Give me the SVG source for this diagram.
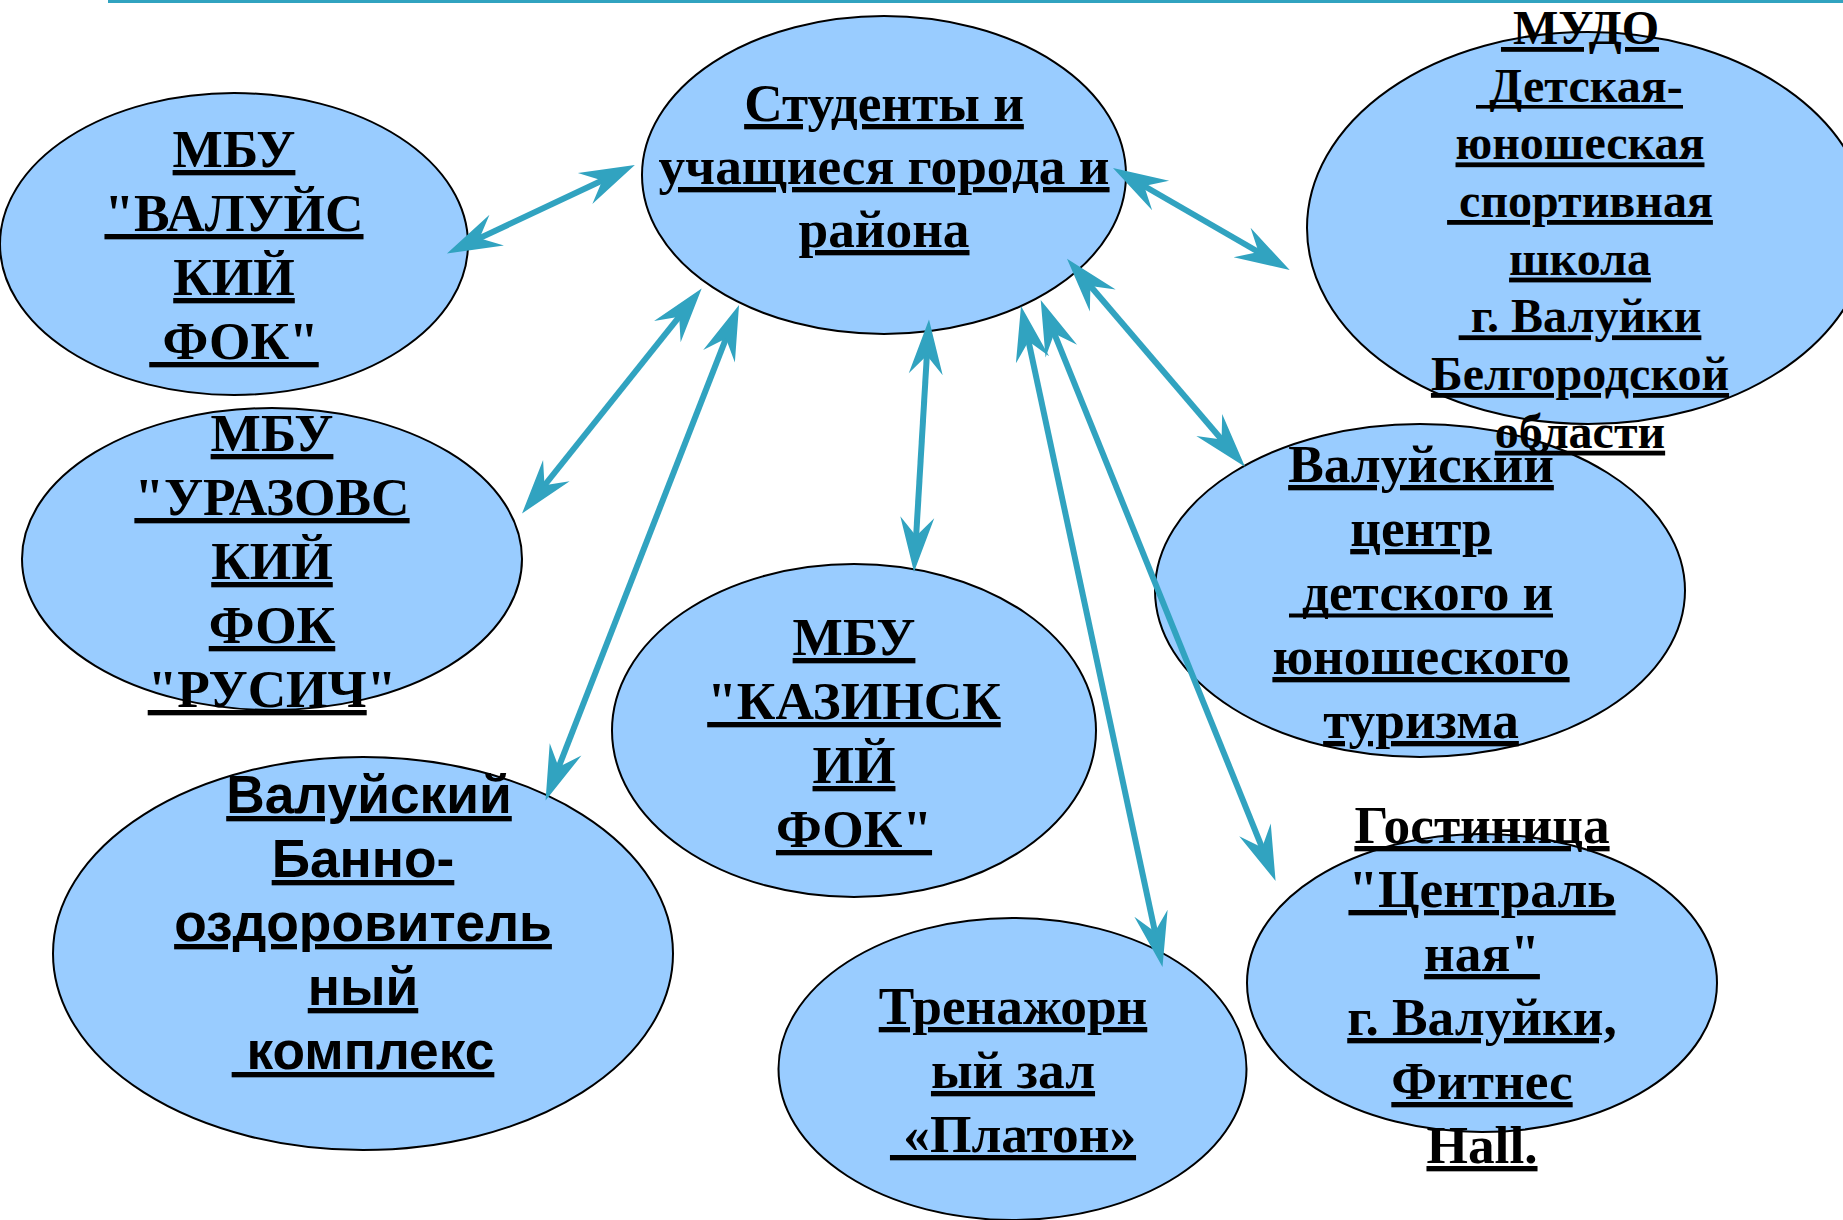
<svg xmlns="http://www.w3.org/2000/svg" width="1843" height="1220" viewBox="0 0 1843 1220">
<style>
.nd{fill:#99CCFF;stroke:#000;stroke-width:2}
.t{font-family:"Liberation Serif","Times New Roman",serif;font-weight:bold;font-size:53.3px;text-anchor:middle;fill:#000}
.s{font-family:"Liberation Sans",Arial,sans-serif;font-weight:bold;font-size:53.3px;text-anchor:middle;fill:#000}
.t,.s,.u{text-decoration-line:underline;text-decoration-skip-ink:none;text-decoration-thickness:4px}
.m{font-size:48px}
.t.nu{text-decoration-line:none}
.ul{fill:#000}
.c{stroke:#31A3C0;stroke-width:6;fill:none;marker-start:url(#ah);marker-end:url(#ah)}
</style>
<defs>
<marker id="ah" markerUnits="userSpaceOnUse" markerWidth="80" markerHeight="60" viewBox="-30 -30 80 60" refX="0" refY="0" orient="auto-start-reverse" overflow="visible">
<path d="M32,0 L-23,-17 L-4,0 L-23,17 Z" fill="#31A3C0"/>
</marker>
</defs>
<rect width="1843" height="1220" fill="#fff"/>
<line x1="108" y1="1.5" x2="1843" y2="1.5" stroke="#31A3C0" stroke-width="3"/>

<g id="n-turizm">
<ellipse class="nd" cx="1420" cy="590.5" rx="265" ry="166.5"/>
<text class="t" x="1421" y="482">Валуйский</text>
<text class="t" x="1421" y="546">центр</text>
<text class="t nu" x="1421" y="610" xml:space="preserve"> детского и</text>
<rect class="ul" x="1289" y="613.5" width="264" height="4"/>
<text class="t" x="1421" y="674">юношеского</text>
<text class="t" x="1421" y="738">туризма</text>
</g>

<g id="n-dyussh">
<ellipse class="nd" cx="1588" cy="228" rx="281" ry="196"/>
<text class="t m" x="1580" y="44" xml:space="preserve"> МУДО</text>
<text class="t m nu" x="1580" y="101.7" xml:space="preserve"> Детская-</text>
<rect class="ul" x="1476" y="105" width="207" height="3.6"/>
<text class="t m" x="1580" y="159.4">юношеская</text>
<text class="t m" x="1580" y="217" xml:space="preserve"> спортивная</text>
<text class="t m" x="1580" y="274.6">школа</text>
<text class="t m" x="1580" y="332.3" xml:space="preserve"> г. Валуйки</text>
<text class="t m" x="1580" y="390">Белгородской</text>
<text class="t m" x="1580" y="447.7">области</text>
</g>

<g id="n-students">
<ellipse class="nd" cx="884" cy="175" rx="242" ry="159"/>
<text class="t" x="884" y="121">Студенты и</text>
<text class="t" x="884" y="184">учащиеся города и</text>
<text class="t" x="884" y="247">района</text>
</g>

<g id="n-valuysky-fok">
<ellipse class="nd" cx="234" cy="244" rx="234" ry="151"/>
<text class="t" x="234" y="167">МБУ</text>
<text class="t" x="234" y="231">"ВАЛУЙС</text>
<text class="t" x="234" y="295">КИЙ</text>
<text class="t" x="234" y="359" xml:space="preserve"> ФОК"</text>
</g>

<g id="n-urazovo">
<ellipse class="nd" cx="272" cy="559" rx="250" ry="151"/>
<text class="t" x="272" y="451">МБУ</text>
<text class="t" x="272" y="515">"УРАЗОВС</text>
<text class="t" x="272" y="579">КИЙ</text>
<text class="t" x="272" y="643">ФОК</text>
<text class="t nu" x="272" y="707"><tspan class="u">"РУСИЧ</tspan>"</text>
</g>

<g id="n-banya">
<ellipse class="nd" cx="363" cy="953.5" rx="310" ry="196.5"/>
<text class="s" x="369" y="813">Валуйский</text>
<text class="s" x="363" y="877">Банно-</text>
<text class="s" x="363" y="941">оздоровитель</text>
<text class="s" x="363" y="1005">ный</text>
<text class="s" x="363" y="1069" xml:space="preserve"> комплекс</text>
</g>

<g id="n-kazinka">
<ellipse class="nd" cx="854" cy="730.5" rx="242" ry="166.5"/>
<text class="t" x="854" y="655">МБУ</text>
<text class="t" x="854" y="719">"КАЗИНСК</text>
<text class="t" x="854" y="783">ИЙ</text>
<text class="t" x="854" y="847">ФОК"</text>
</g>

<g id="n-platon">
<ellipse class="nd" cx="1012.5" cy="1069" rx="234" ry="151"/>
<text class="t" x="1013" y="1024">Тренажорн</text>
<text class="t" x="1013" y="1088">ый зал</text>
<text class="t" x="1013" y="1152" xml:space="preserve"> «Платон»</text>
</g>

<g id="n-hotel">
<ellipse class="nd" cx="1482" cy="983" rx="235" ry="149"/>
<text class="t" x="1482" y="843">Гостиница</text>
<text class="t" x="1482" y="907">"Централь</text>
<text class="t" x="1482" y="971">ная"</text>
<text class="t" x="1482" y="1035">г. Валуйки,</text>
<text class="t" x="1482" y="1099">Фитнес</text>
<text class="t" x="1482" y="1163">Hall.</text>
</g>

<g id="connectors">
<line class="c" x1="475.9" y1="239.9" x2="605.9" y2="178.7"/>
<line class="c" x1="542" y1="488.5" x2="681.7" y2="313.6"/>
<line class="c" x1="557.2" y1="770.8" x2="727.4" y2="334.8"/>
<line class="c" x1="927.1" y1="351.4" x2="915.9" y2="540.1"/>
<line class="c" x1="1027.7" y1="337.3" x2="1155.8" y2="935.7"/>
<line class="c" x1="1052.7" y1="329.7" x2="1263.6" y2="851.3"/>
<line class="c" x1="1087.8" y1="283" x2="1224.2" y2="442.5"/>
<line class="c" x1="1140.7" y1="184" x2="1262" y2="254"/>
</g>
</svg>
